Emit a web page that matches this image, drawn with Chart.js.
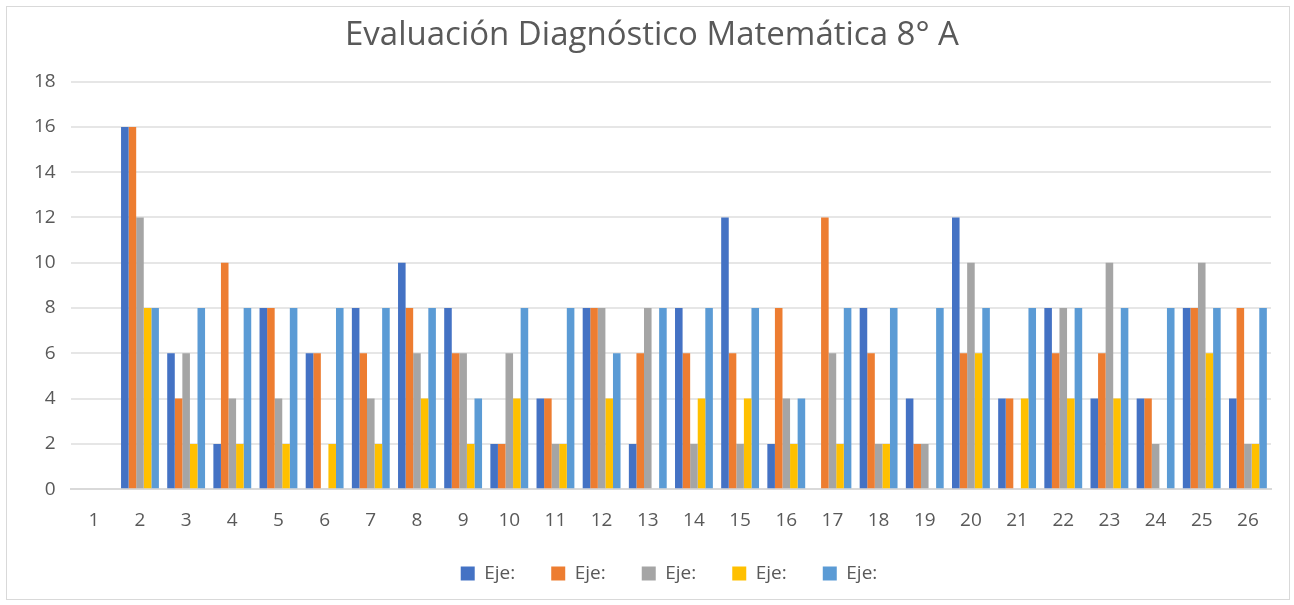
<!DOCTYPE html>
<html>
<head>
<meta charset="utf-8">
<script src="https://cdn.jsdelivr.net/npm/chart.js@4.4.1/dist/chart.umd.min.js"></script>
<style>
    html, body { margin: 0; padding: 0; background: #fff; }
    #marco {
        position: absolute;
        left: 6px; top: 6px;
        width: 1282px; height: 592px;
        border: 1px solid #d9d9d9;
    }
</style>
</head>
<body>
<div id="marco"><canvas id="grafico"></canvas></div>
<script>
"use strict";

// datos
const categorias = ['1', '2', '3', '4', '5', '6', '7', '8', '9', '10', '11', '12', '13',
    '14', '15', '16', '17', '18', '19', '20', '21', '22', '23', '24', '25', '26'];
const eje1 = [0, 16, 6, 2, 8, 6, 8, 10, 8, 2, 4, 8, 2, 8, 12, 2, 0, 8, 4, 12, 4, 8, 4, 4, 8, 4];
const eje2 = [0, 16, 4, 10, 8, 6, 6, 8, 6, 2, 4, 8, 6, 6, 6, 8, 12, 6, 2, 6, 4, 6, 6, 4, 8, 8];
const eje3 = [0, 12, 6, 4, 4, 0, 4, 6, 6, 6, 2, 8, 8, 2, 2, 4, 6, 2, 2, 10, 0, 8, 10, 2, 10, 2];
const eje4 = [0, 8, 2, 2, 2, 2, 2, 4, 2, 4, 2, 4, 0, 4, 4, 2, 2, 2, 0, 6, 4, 4, 4, 0, 6, 2];
const eje5 = [0, 8, 8, 8, 8, 8, 8, 8, 4, 8, 8, 6, 8, 8, 8, 4, 8, 8, 8, 8, 8, 8, 8, 8, 8, 8];

const series = [eje1, eje2, eje3, eje4, eje5];
const colores = ['#4472C4', '#ED7D31', '#A5A5A5', '#FFC000', '#5B9BD5'];
const ticksY = [0, 2, 4, 6, 8, 10, 12, 14, 16, 18];

const textoGris = '#595959';
const fuente = "'Open Sans', sans-serif";

/**
 * Desplaza el título y la leyenda hacia la derecha,
 * como en el original (centrados sobre el área de trazado)
 */
const desplazarBloques = {
    id: 'desplazarBloques',
    afterLayout(chart) {
        chart.titleBlock.left += 7;
        chart.titleBlock.right += 7;
        chart.legend.left += 24;
        chart.legend.right += 24;
    }
};

const config = {
    type: 'bar',
    data: {
        labels: categorias,
        datasets: series.map((valores, i) => ({
            label: 'Eje:',
            data: valores,
            backgroundColor: colores[i],
            borderWidth: 0,
            categoryPercentage: 0.82,
            barPercentage: 1.0
        }))
    },
    options: {
        responsive: true,
        maintainAspectRatio: false,
        animation: false,
        layout: {
            padding: {left: 12, right: 18, top: 2, bottom: 6}
        },
        plugins: {
            title: {
                display: true,
                text: 'Evaluación Diagnóstico Matemática 8° A',
                color: textoGris,
                font: {family: fuente, size: 33, weight: 'normal'},
                padding: {top: 7, bottom: 26}
            },
            legend: {
                position: 'bottom',
                labels: {
                    color: textoGris,
                    font: {family: fuente, size: 19},
                    boxWidth: 14,
                    boxHeight: 14,
                    padding: 36
                }
            },
            tooltip: {enabled: false}
        },
        scales: {
            x: {
                grid: {display: false},
                border: {display: true, color: '#d9d9d9', width: 2},
                ticks: {
                    color: textoGris,
                    font: {family: fuente, size: 19},
                    maxRotation: 0,
                    padding: 12
                },
                // acerca la leyenda a las etiquetas del eje
                afterFit: function (scale) {
                    scale.height -= 16;
                }
            },
            y: {
                min: 0,
                max: 18,
                afterBuildTicks: function (axis) {
                    axis.ticks = ticksY.map(v => ({value: v}));
                },
                grid: {color: '#e6e6e6', lineWidth: 2, drawTicks: false},
                border: {display: false},
                ticks: {
                    color: textoGris,
                    font: {family: fuente, size: 19},
                    padding: 15
                }
            }
        }
    },
    plugins: [desplazarBloques]
};

new Chart(document.getElementById('grafico'), config);
</script>
</body>
</html>
